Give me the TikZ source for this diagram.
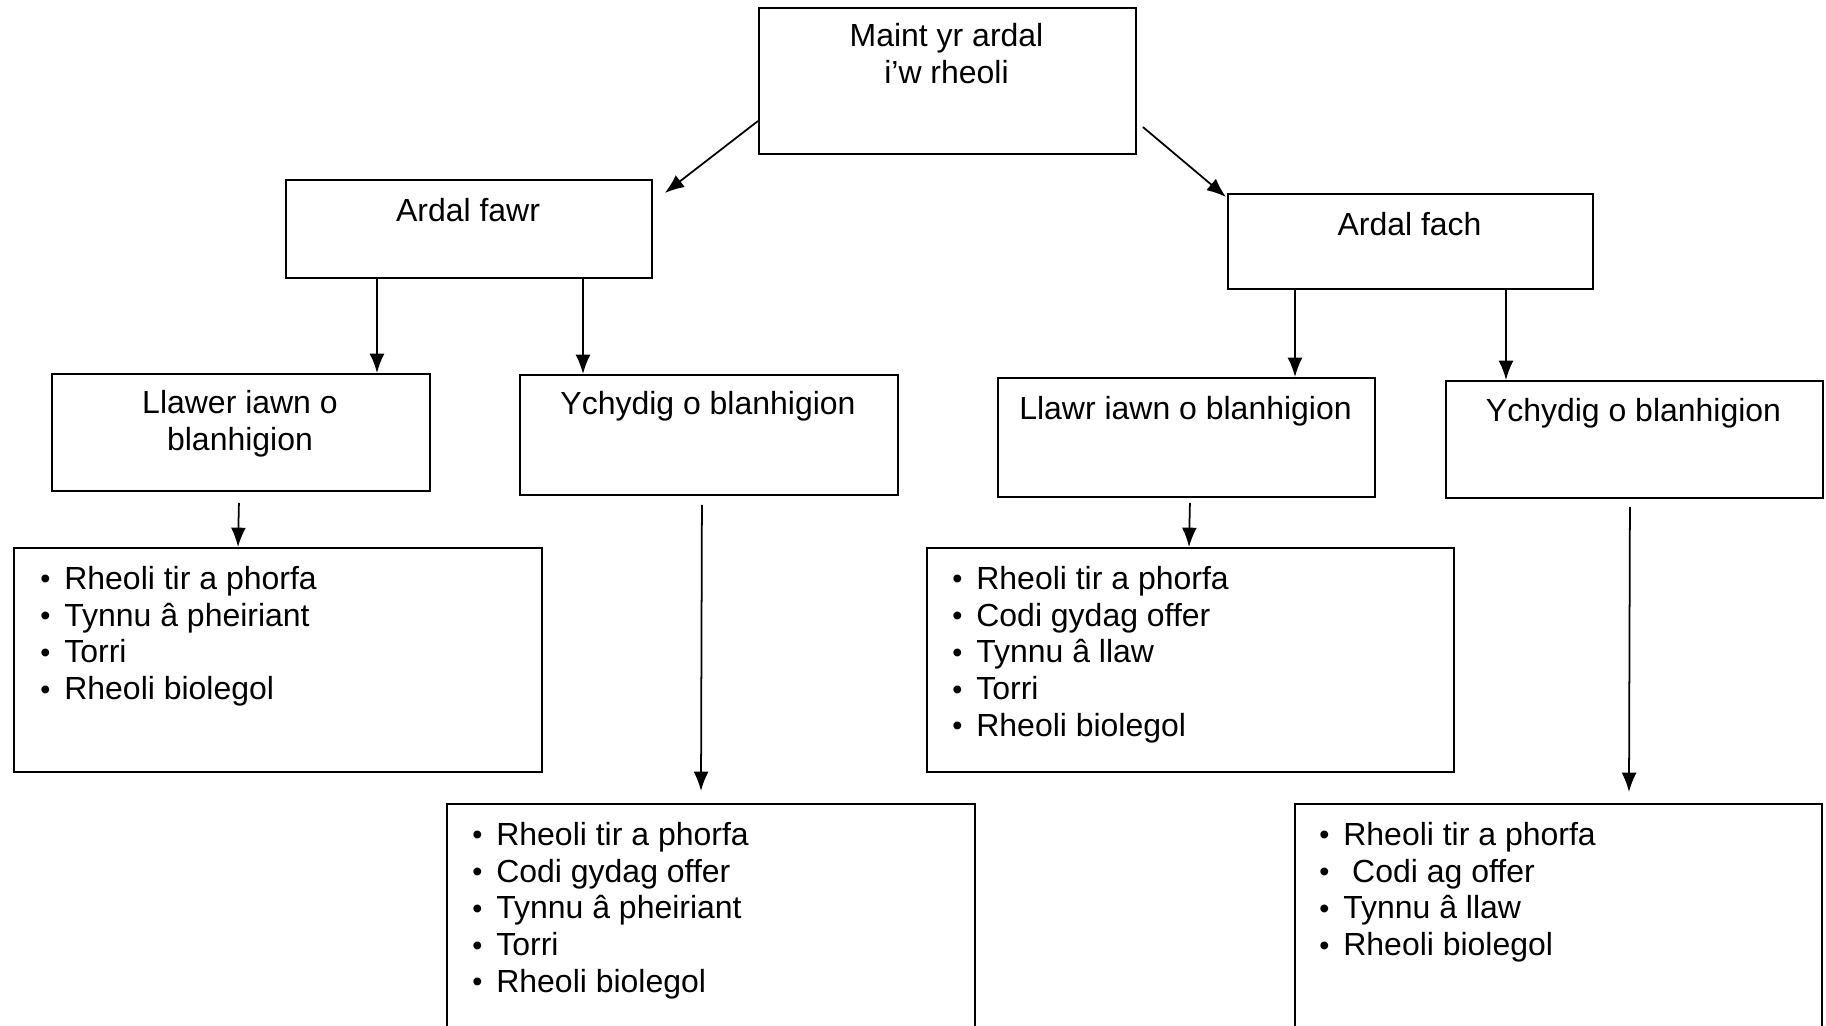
\documentclass[tikz,border=0pt]{standalone}
\usepackage{fontspec}
\setmainfont{Liberation Sans}
\usetikzlibrary{calc,arrows.meta,positioning}
\tikzset{
    box/.style = {draw, rectangle, line width=1.1pt, inner sep=0pt, anchor=north west},
    txt/.style = {inner sep=0pt, anchor=north, align=center},
    lst/.style = {inner sep=0pt, anchor=north west, align=left},
    arrow/.style = {draw, line width=1pt, -{Latex[length=11pt,width=8.5pt]}}
}
\newcommand{\itm}[1]{\makebox[0.48cm][l]{\raisebox{0.02em}{\scalebox{0.9}{•}}}#1}

\begin{document}
\begin{tikzpicture}[x=0.02cm, y=-0.02cm,
    font=\fontsize{18.2}{20.9}\selectfont]
    \clip (0,0) rectangle (1826,1026);
    % boxes
    \node[box, minimum width=7.54cm, minimum height=2.92cm] (top) at (758,7) {};
    \node[box, minimum width=7.32cm, minimum height=1.96cm] (fawr) at (285,179) {};
    \node[box, minimum width=7.30cm, minimum height=1.90cm] (fach) at (1227,193) {};
    \node[box, minimum width=7.56cm, minimum height=2.34cm] (llawer) at (51,373) {};
    \node[box, minimum width=7.56cm, minimum height=2.40cm] (ychydigA) at (519,374) {};
    \node[box, minimum width=7.54cm, minimum height=2.38cm] (llawr) at (997,377) {};
    \node[box, minimum width=7.54cm, minimum height=2.34cm] (ychydigB) at (1445,380) {};
    \node[box, minimum width=10.56cm, minimum height=4.48cm] (listA) at (13,547) {};
    \node[box, minimum width=10.54cm, minimum height=4.48cm] (listB) at (926,547) {};
    \node[box, minimum width=10.56cm, minimum height=5.40cm] (listC) at (446,803) {};
    \node[box, minimum width=10.54cm, minimum height=5.40cm] (listD) at (1294,803) {};
    % texts
    \node[txt] (topT) at (946.5,23) {Maint yr ardal\\i’w rheoli};
    \node[txt] (fawrT) at (468,198) {Ardal fawr};
    \node[txt] (fachT) at (1409.5,212) {Ardal fach};
    \node[txt] (llawerT) at (240,390) {Llawer iawn o\\blanhigion};
    \node[txt] (ychydigAT) at (708,391) {Ychydig o blanhigion};
    \node[txt] (llawrT) at (1185.5,396) {Llawr iawn o blanhigion};
    \node[txt] (ychydigBT) at (1633.5,398) {Ychydig o blanhigion};
    \node[lst] (listAT) at (40,566) {\itm{Rheoli tir a phorfa}\\\itm{Tynnu â pheiriant}\\\itm{Torri}\\\itm{Rheoli biolegol}};
    \node[lst] (listBT) at (952,566) {\itm{Rheoli tir a phorfa}\\\itm{Codi gydag offer}\\\itm{Tynnu â llaw}\\\itm{Torri}\\\itm{Rheoli biolegol}};
    \node[lst] (listCT) at (472,822) {\itm{Rheoli tir a phorfa}\\\itm{Codi gydag offer}\\\itm{Tynnu â pheiriant}\\\itm{Torri}\\\itm{Rheoli biolegol}};
    \node[lst] (listDT) at (1319,822) {\itm{Rheoli tir a phorfa}\\\itm{\ Codi ag offer}\\\itm{Tynnu â llaw}\\\itm{Rheoli biolegol}};
    % arrows
    \draw[arrow] ($(top.north west)+(0,114)$) -- ($(fawr.north east)+(12,14)$);
    \draw[arrow] ($(top.north east)+(6,120)$) -- ($(fach.north west)+(-1,4)$);
    \draw[arrow] ($(fawr.south west)+(92,0)$) -- ($(llawer.north west)+(326,0)$);
    \draw[arrow] ($(fawr.south west)+(298,0)$) -- ($(ychydigA.north west)+(64,0)$);
    \draw[arrow] ($(fach.south west)+(68,0)$) -- ($(llawr.north west)+(298,0)$);
    \draw[arrow] ($(fach.south west)+(279,0)$) -- ($(ychydigB.north west)+(61,0)$);
    \draw[arrow] ($(llawer.south)+(-2,11)$) -- ($(listA.north west)+(225,0)$);
    \draw[arrow] ($(ychydigA.south)+(-7,9)$) -- ($(listC.north west)+(255,-12)$);
    \draw[arrow] ($(llawr.south)+(3.5,5)$) -- ($(listB.north west)+(263,0)$);
    \draw[arrow] ($(ychydigB.south)+(-4.5,8)$) -- ($(listD.north west)+(335,-11)$);
\end{tikzpicture}
\end{document}
